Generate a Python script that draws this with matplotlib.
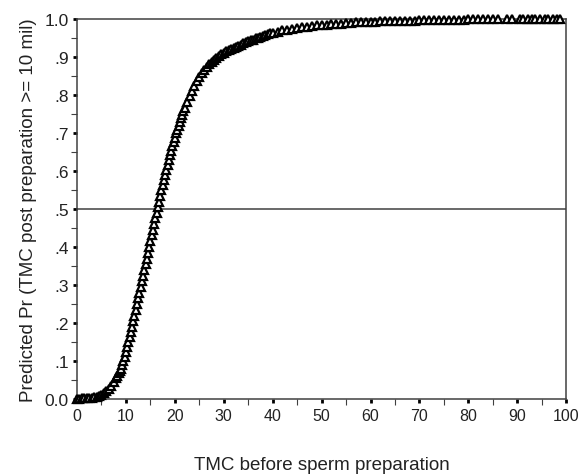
import matplotlib.pyplot as plt
from matplotlib.ticker import MultipleLocator, FuncFormatter

plt.rcParams['font.family'] = ['Liberation Sans', 'DejaVu Sans']

# TMC before preparation (x) and predicted probability (y)
tmc_low = [0.0, 0.5, 1.0, 1.5, 2.0, 2.5, 3.0, 3.5, 4.0, 4.5, 5.0, 5.5, 6.0, 6.5,
           7.0, 7.5, 8.0, 8.25, 8.5, 8.75]
pr_low = [0.001, 0.001, 0.002, 0.002, 0.003, 0.003, 0.004, 0.005, 0.007, 0.009,
          0.012, 0.016, 0.021, 0.027, 0.035, 0.045, 0.056, 0.062, 0.068, 0.074]

tmc_mid = [9.0, 9.25, 9.5, 9.75, 10.0, 10.25, 10.5, 10.75, 11.0, 11.25, 11.5, 11.75,
           12.0, 12.25, 12.5, 12.75, 13.0, 13.25, 13.5, 13.75, 14.0, 14.25, 14.5, 14.75,
           15.0, 15.25, 15.5, 15.75, 16.0, 16.25, 16.5, 16.75, 17.0, 17.25, 17.5, 17.75,
           18.0, 18.25, 18.5, 18.75, 19.0, 19.25, 19.5, 19.75, 20.0, 20.25, 20.5, 20.75,
           21.0, 21.25, 21.5, 21.75, 22.0]
pr_mid = [0.080, 0.090, 0.100, 0.112, 0.124, 0.137, 0.150, 0.163, 0.177, 0.191, 0.205, 0.220,
          0.235, 0.250, 0.265, 0.280, 0.295, 0.310, 0.325, 0.340, 0.355, 0.370, 0.385, 0.400,
          0.415, 0.431, 0.446, 0.461, 0.476, 0.490, 0.505, 0.520, 0.535, 0.549, 0.563, 0.577,
          0.591, 0.604, 0.617, 0.630, 0.642, 0.654, 0.666, 0.677, 0.688, 0.699, 0.709, 0.719,
          0.729, 0.739, 0.748, 0.757, 0.766]

tmc_upper = [22.5, 23.0, 23.5, 24.0, 24.5, 25.0, 25.5, 26.0, 26.5, 27.0, 27.5, 28.0,
             28.5, 29.0, 29.5, 30.0, 30.5, 31.0, 31.5, 32.0, 32.5, 33.0, 33.5, 34.0,
             34.5, 35.0, 35.5, 36.0, 36.5, 37.0, 37.5, 38.0, 38.5, 39.0, 39.5, 40.0]
pr_upper = [0.782, 0.797, 0.811, 0.824, 0.836, 0.847, 0.857, 0.866, 0.874, 0.881, 0.887, 0.893,
            0.898, 0.903, 0.907, 0.911, 0.915, 0.918, 0.921, 0.924, 0.927, 0.930, 0.933, 0.936,
            0.939, 0.941, 0.944, 0.946, 0.949, 0.951, 0.954, 0.956, 0.958, 0.960, 0.962, 0.964]

tmc_high = [41, 42, 43, 44, 45, 46, 47, 48, 49, 50, 51, 52, 53, 54, 55, 56, 57, 58, 59, 60,
            61, 62, 63, 64, 65, 66, 67, 68, 69, 70, 71, 72, 73, 74, 75, 76, 77, 78, 79, 80,
            81, 82, 83, 84, 85, 86]
pr_high = [0.967, 0.970, 0.972, 0.974, 0.976, 0.978, 0.980, 0.981, 0.983, 0.984,
           0.985, 0.986, 0.987, 0.988, 0.989, 0.990, 0.991, 0.991, 0.992, 0.993,
           0.993, 0.994, 0.994, 0.995, 0.995, 0.995, 0.996, 0.996, 0.996, 0.997,
           0.997, 0.997, 0.997, 0.998, 0.998, 0.998, 0.998, 0.998, 0.998, 0.999,
           0.999, 0.999, 0.999, 0.999, 0.999, 0.999]

tmc_tail = [87.9, 88.9, 90.6, 91.2, 92.2, 93.0, 93.7, 94.7, 95.7, 96.3, 97.3, 98.2, 98.8]
pr_tail = [0.999, 0.999, 0.999, 0.999, 1.0, 1.0, 1.0, 1.0, 1.0, 1.0, 1.0, 1.0, 1.0]

tmc = tmc_low + tmc_mid + tmc_upper + tmc_high + tmc_tail
pr = pr_low + pr_mid + pr_upper + pr_high + pr_tail

fig = plt.figure(figsize=(5.79, 4.77), dpi=100)
ax = fig.add_axes([0.133, 0.161, 0.845, 0.797])

ax.axhline(0.5, color='#404040', lw=1.1, zorder=1)
ax.plot(tmc, pr, linestyle='none', marker='^', markersize=5.5, markerfacecolor='white',
        markeredgecolor='black', markeredgewidth=1.6, clip_on=False, zorder=3)

ax.set_xlim(0, 100)
ax.set_ylim(0, 1)
ax.xaxis.set_major_locator(MultipleLocator(10))
ax.xaxis.set_minor_locator(MultipleLocator(5))
ax.yaxis.set_major_locator(MultipleLocator(0.1))
ax.yaxis.set_minor_locator(MultipleLocator(0.05))

def ylab(v, pos):
    if abs(v) < 1e-9:
        return '0.0'
    if abs(v - 1) < 1e-9:
        return '1.0'
    return ('%.1f' % v).lstrip('0')

ax.yaxis.set_major_formatter(FuncFormatter(ylab))

for s in ax.spines.values():
    s.set_color('#404040')
    s.set_linewidth(1.1)

ax.tick_params(which='major', direction='out', length=3, width=2, color='black',
               labelsize=12.5, pad=3, labelcolor='#222222')
ax.tick_params(axis='x', which='major', labelsize=11.5)
ax.tick_params(which='minor', direction='out', length=4, width=0.8, color='#404040')

ax.set_xlabel('TMC before sperm preparation', fontsize=13.5, labelpad=24, color='#222222')
ax.set_ylabel('Predicted Pr (TMC post preparation >= 10 mil)', fontsize=13.5,
              labelpad=5, color='#222222')

fig.savefig('out.png', dpi=100)
